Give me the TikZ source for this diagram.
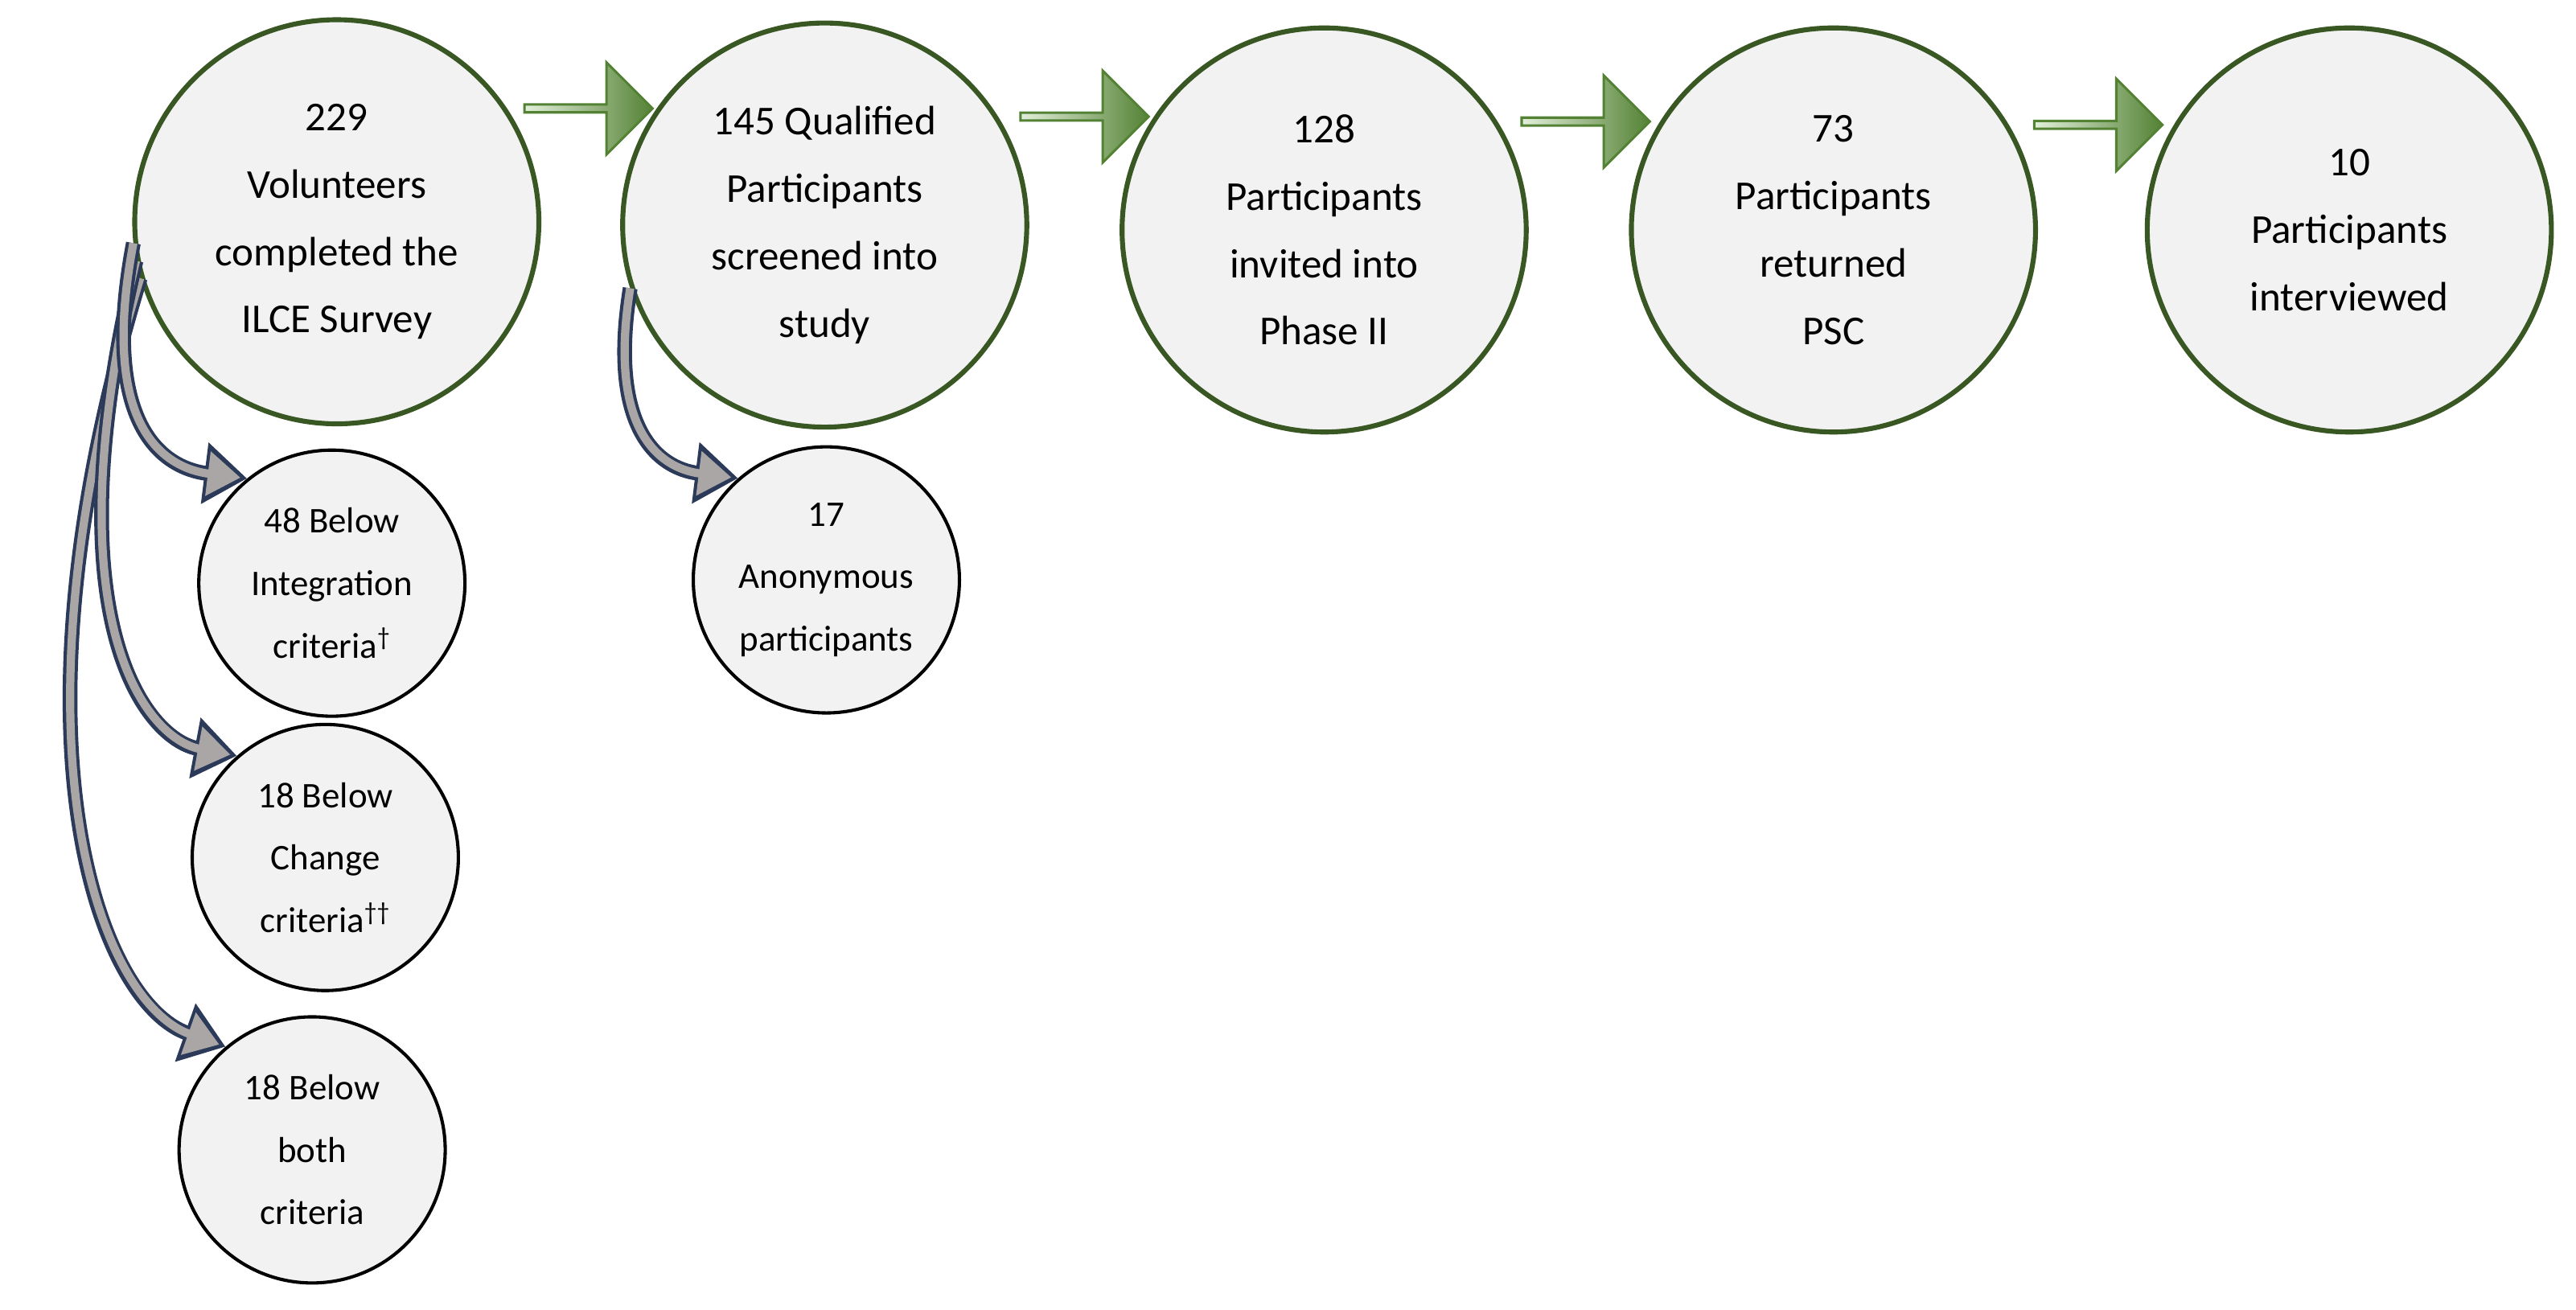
\documentclass[tikz,border=0pt]{standalone}
\usepackage{fontspec}
\setmainfont{Carlito}
\usetikzlibrary{shapes.arrows,arrows.meta}

\tikzset{
  big/.style={circle,draw={rgb,255:red,56;green,87;blue,35},line width=3pt,fill={rgb,255:red,242;green,242;blue,242},minimum size=246pt,inner sep=0pt,align=center,font=\fontsize{25}{41}\selectfont},
  small/.style={circle,draw=black,line width=2pt,fill={rgb,255:red,242;green,242;blue,242},minimum size=162pt,inner sep=0pt,align=center,font=\fontsize{22}{38}\selectfont},
  stagearrow/.style={single arrow,draw={rgb,255:red,84;green,130;blue,53},line width=1.5pt,left color={rgb,255:red,226;green,239;blue,218},right color={rgb,255:red,84;green,130;blue,53},minimum height=78pt,minimum width=56pt,single arrow head extend=8pt,inner sep=0pt},
  dropout/.style={line width=9pt,draw={rgb,255:red,44;green,58;blue,90},-{Triangle[length=26pt,width=36pt]}},
  dropin/.style={line width=5pt,draw={rgb,255:red,170;green,166;blue,166},-{Triangle[length=20pt,width=26pt]},shorten >=4pt}
}

\begin{document}
\begin{tikzpicture}[x=1pt,y=-1pt]
\useasboundingbox (0,0) rectangle (1568,797);

% main stages
\node[big] (v229) at (205,135) {229\\Volunteers\\completed the\\ILCE Survey};
\node[big] (q145) at (502,137) {145 Qualified\\Participants\\screened into\\study};
\node[big] (p128) at (806,140) {128\\Participants\\invited into\\Phase II};
\node[big] (p73) at (1116,140) {73\\Participants\\returned\\PSC};
\node[big] (p10) at (1430,140) {10\\Participants\\interviewed};

% excluded
\node[small] (b48) at (202,355) {48 Below\\Integration\\criteria\textsuperscript{\textdagger}};
\node[small] (b18c) at (198,522) {18 Below\\Change\\criteria\textsuperscript{\textdagger\textdagger}};
\node[small] (b18b) at (190,700) {18 Below\\both\\criteria};
\node[small] (anon) at (503,353) {17\\Anonymous\\participants};

% block arrows
\node[stagearrow] (s1) at (357,66) {};
\node[stagearrow] (s2) at (659,71) {};
\node[stagearrow] (s3) at (964,74) {};
\node[stagearrow] (s4) at (1276,76) {};

% curved arrows
\foreach \a/\b/\p/\q in {v229.196/b18b.130/{0,450}/{60,610},v229.191/b18c.131/{30,380}/{90,450},v229.186/b48.129/{60,260}/{100,285},q145.198/anon.131/{370,260}/{400,285}}{
  \draw[dropout] (\a) .. controls (\p) and (\q) .. (\b);
  \draw[dropin] (\a) .. controls (\p) and (\q) .. (\b);
}
\end{tikzpicture}
\end{document}
